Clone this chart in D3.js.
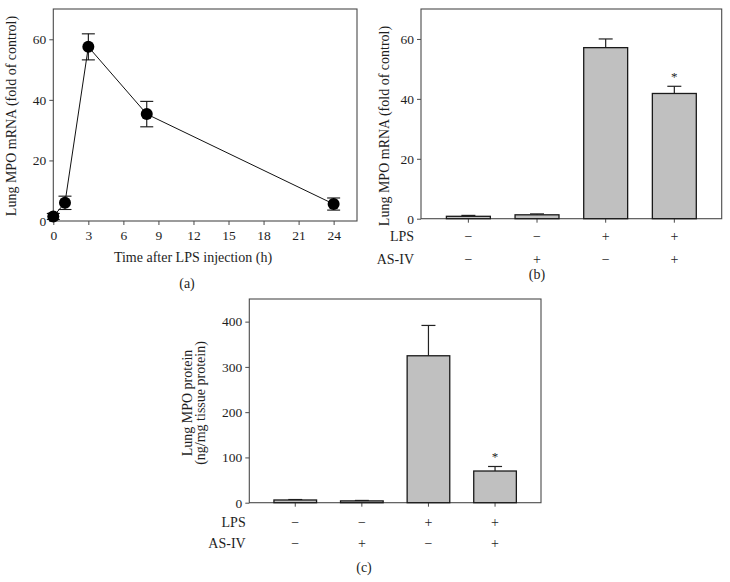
<!DOCTYPE html>
<html>
<head>
<meta charset="utf-8">
<script src="https://cdn.jsdelivr.net/npm/d3@7"></script>
<style>
  body { margin: 0; background: #fff; }
  svg { display: block; }
  text { font-family: "Liberation Serif", "DejaVu Serif", serif; fill: #1e1e1e; }
</style>
</head>
<body>
<svg id="chart" width="730" height="582"></svg>
<script>
// ---- data ----
const timeHours = [0, 1, 3, 8, 24];
const mrnaTime = [1.5, 6.0, 57.5, 35.3, 5.6];
const mrnaTimeErr = [1.0, 2.2, 4.3, 4.2, 2.0];
const timeTicks = [0, 3, 6, 9, 12, 15, 18, 21, 24];
const mrnaTicks = [0, 20, 40, 60];

const groups = ["g1", "g2", "g3", "g4"];
const lpsRow = ["\u2212", "\u2212", "+", "+"];
const asivRow = ["\u2212", "+", "\u2212", "+"];
const mrnaBar = [0.8, 1.3, 57.1, 41.8];
const mrnaBarErr = [0.3, 0.3, 2.9, 2.4];
const proteinBar = [6, 4, 324.6, 70];
const proteinBarErr = [1, 1, 67, 10];
const proteinTicks = [0, 100, 200, 300, 400];
const significant = [false, false, false, true];

const svg = d3.select("#chart");
const boxColor = "#4a4a4a";
const fs = 14;
const tfs = 13.5;

function frame(g, x0, x1, y0, y1) {
  g.append("rect").attr("x", x0).attr("y", y0)
    .attr("width", x1 - x0).attr("height", y1 - y0)
    .attr("fill", "none").attr("stroke", boxColor).attr("stroke-width", 1.1);
}
function styleAxis(sel) {
  sel.select(".domain").remove();
  sel.selectAll(".tick line").attr("stroke", boxColor);
  sel.selectAll(".tick text").attr("font-size", tfs).attr("fill", "#1e1e1e");
}

// ---------- Panel (a) ----------
{
  const L = 53.3, R = 357, T = 9, B = 221;
  const g = svg.append("g");
  const x = d3.scaleLinear().domain([0, 26]).range([L, R]);
  const y = d3.scaleLinear().domain([0, 70]).range([B, T]);
  frame(g, L, R, T, B);
  g.append("g").attr("transform", `translate(0,${B})`)
    .call(d3.axisBottom(x).tickValues(timeTicks).tickSize(4).tickPadding(5).tickSizeOuter(0))
    .call(styleAxis);
  g.append("g").attr("transform", `translate(${L},0)`)
    .call(d3.axisLeft(y).tickValues(mrnaTicks).tickSize(4).tickPadding(3).tickSizeOuter(0))
    .call(styleAxis);
  const pts = timeHours.map((t, i) => ({ t, v: mrnaTime[i], e: mrnaTimeErr[i] }));
  g.append("path").datum(pts)
    .attr("d", d3.line().x(d => x(d.t)).y(d => y(d.v)))
    .attr("fill", "none").attr("stroke", "#111").attr("stroke-width", 1);
  const eb = g.append("g").attr("stroke", "#111").attr("stroke-width", 1.1);
  pts.forEach(d => {
    const cx = x(d.t), hi = y(d.v + d.e), lo = y(d.v - d.e);
    eb.append("line").attr("x1", cx).attr("x2", cx).attr("y1", hi).attr("y2", lo);
    eb.append("line").attr("x1", cx - 6.5).attr("x2", cx + 6.5).attr("y1", hi).attr("y2", hi);
    eb.append("line").attr("x1", cx - 6.5).attr("x2", cx + 6.5).attr("y1", lo).attr("y2", lo);
  });
  g.selectAll("circle.pt").data(pts).join("circle")
    .attr("cx", d => x(d.t)).attr("cy", d => y(d.v)).attr("r", 6)
    .attr("fill", "#000");
  g.append("text").attr("transform", "translate(16,116) rotate(-90)")
    .attr("text-anchor", "middle").attr("font-size", fs)
    .text("Lung MPO mRNA (fold of control)");
  g.append("text").attr("x", 193).attr("y", 262).attr("text-anchor", "middle")
    .attr("font-size", fs).text("Time after LPS injection (h)");
  g.append("text").attr("x", 187).attr("y", 288).attr("text-anchor", "middle")
    .attr("font-size", fs).text("(a)");
}

// ---------- bar panel helper ----------
function barPanel(opt) {
  const { L, R, T, B, ymax, ticks, values, errs, row1y, row2y, labelRight } = opt;
  const g = svg.append("g");
  const x = d3.scaleBand().domain(groups).range([L, R]).paddingInner(0.36).paddingOuter(0.37);
  const y = d3.scaleLinear().domain([0, ymax]).range([B, T]);
  frame(g, L, R, T, B);
  g.append("g").attr("transform", `translate(${L},0)`)
    .call(d3.axisLeft(y).tickValues(ticks).tickSize(4).tickPadding(3).tickSizeOuter(0))
    .call(styleAxis);
  g.append("g").attr("transform", `translate(0,${B})`)
    .call(d3.axisBottom(x).tickSize(4).tickFormat("").tickSizeOuter(0))
    .call(styleAxis);
  const data = groups.map((k, i) => ({ k, v: values[i], e: errs[i], s: significant[i], lps: lpsRow[i], as: asivRow[i] }));
  const eb = g.append("g").attr("stroke", "#222").attr("stroke-width", 1.2);
  data.forEach(d => {
    const cx = x(d.k) + x.bandwidth() / 2, top = y(d.v + d.e);
    eb.append("line").attr("x1", cx).attr("x2", cx).attr("y1", y(d.v)).attr("y2", top);
    eb.append("line").attr("x1", cx - 7).attr("x2", cx + 7).attr("y1", top).attr("y2", top);
  });
  g.selectAll("rect.bar").data(data).join("rect")
    .attr("x", d => x(d.k)).attr("width", x.bandwidth())
    .attr("y", d => y(d.v)).attr("height", d => y(0) - y(d.v))
    .attr("fill", "#c0c0c0").attr("stroke", "#1a1a1a").attr("stroke-width", 1.3);
  data.filter(d => d.s).forEach(d => {
    g.append("text").attr("x", x(d.k) + x.bandwidth() / 2).attr("y", y(d.v + d.e) - 5)
      .attr("text-anchor", "middle").attr("font-size", 13).text("*");
  });
  data.forEach(d => {
    const cx = x(d.k) + x.bandwidth() / 2;
    g.append("text").attr("x", cx).attr("y", row1y).attr("dy", "0.35em")
      .attr("text-anchor", "middle").attr("font-size", fs).text(d.lps);
    g.append("text").attr("x", cx).attr("y", row2y).attr("dy", "0.35em")
      .attr("text-anchor", "middle").attr("font-size", fs).text(d.as);
  });
  g.append("text").attr("x", labelRight).attr("y", row1y).attr("dy", "0.35em")
    .attr("text-anchor", "end").attr("font-size", fs).text("LPS");
  g.append("text").attr("x", labelRight).attr("y", row2y).attr("dy", "0.35em")
    .attr("text-anchor", "end").attr("font-size", fs).text("AS-IV");
  return g;
}

// ---------- Panel (b) ----------
{
  const g = barPanel({ L: 421, R: 721.7, T: 9, B: 218.7, ymax: 70, ticks: mrnaTicks,
    values: mrnaBar, errs: mrnaBarErr, row1y: 235.7, row2y: 258.7, labelRight: 414 });
  g.append("text").attr("transform", "translate(389,126) rotate(-90)")
    .attr("text-anchor", "middle").attr("font-size", fs)
    .text("Lung MPO mRNA (fold of control)");
  g.append("text").attr("x", 537).attr("y", 279).attr("text-anchor", "middle")
    .attr("font-size", fs).text("(b)");
}

// ---------- Panel (c) ----------
{
  const g = barPanel({ L: 249.3, R: 541, T: 299, B: 502.7, ymax: 450, ticks: proteinTicks,
    values: proteinBar, errs: proteinBarErr, row1y: 522, row2y: 543, labelRight: 245.7 });
  g.append("text").attr("transform", "translate(192,403) rotate(-90)")
    .attr("text-anchor", "middle").attr("font-size", fs).text("Lung MPO protein");
  g.append("text").attr("transform", "translate(205,403) rotate(-90)")
    .attr("text-anchor", "middle").attr("font-size", fs).text("(ng/mg tissue protein)");
  g.append("text").attr("x", 364).attr("y", 572).attr("text-anchor", "middle")
    .attr("font-size", fs).text("(c)");
}
</script>
</body>
</html>
